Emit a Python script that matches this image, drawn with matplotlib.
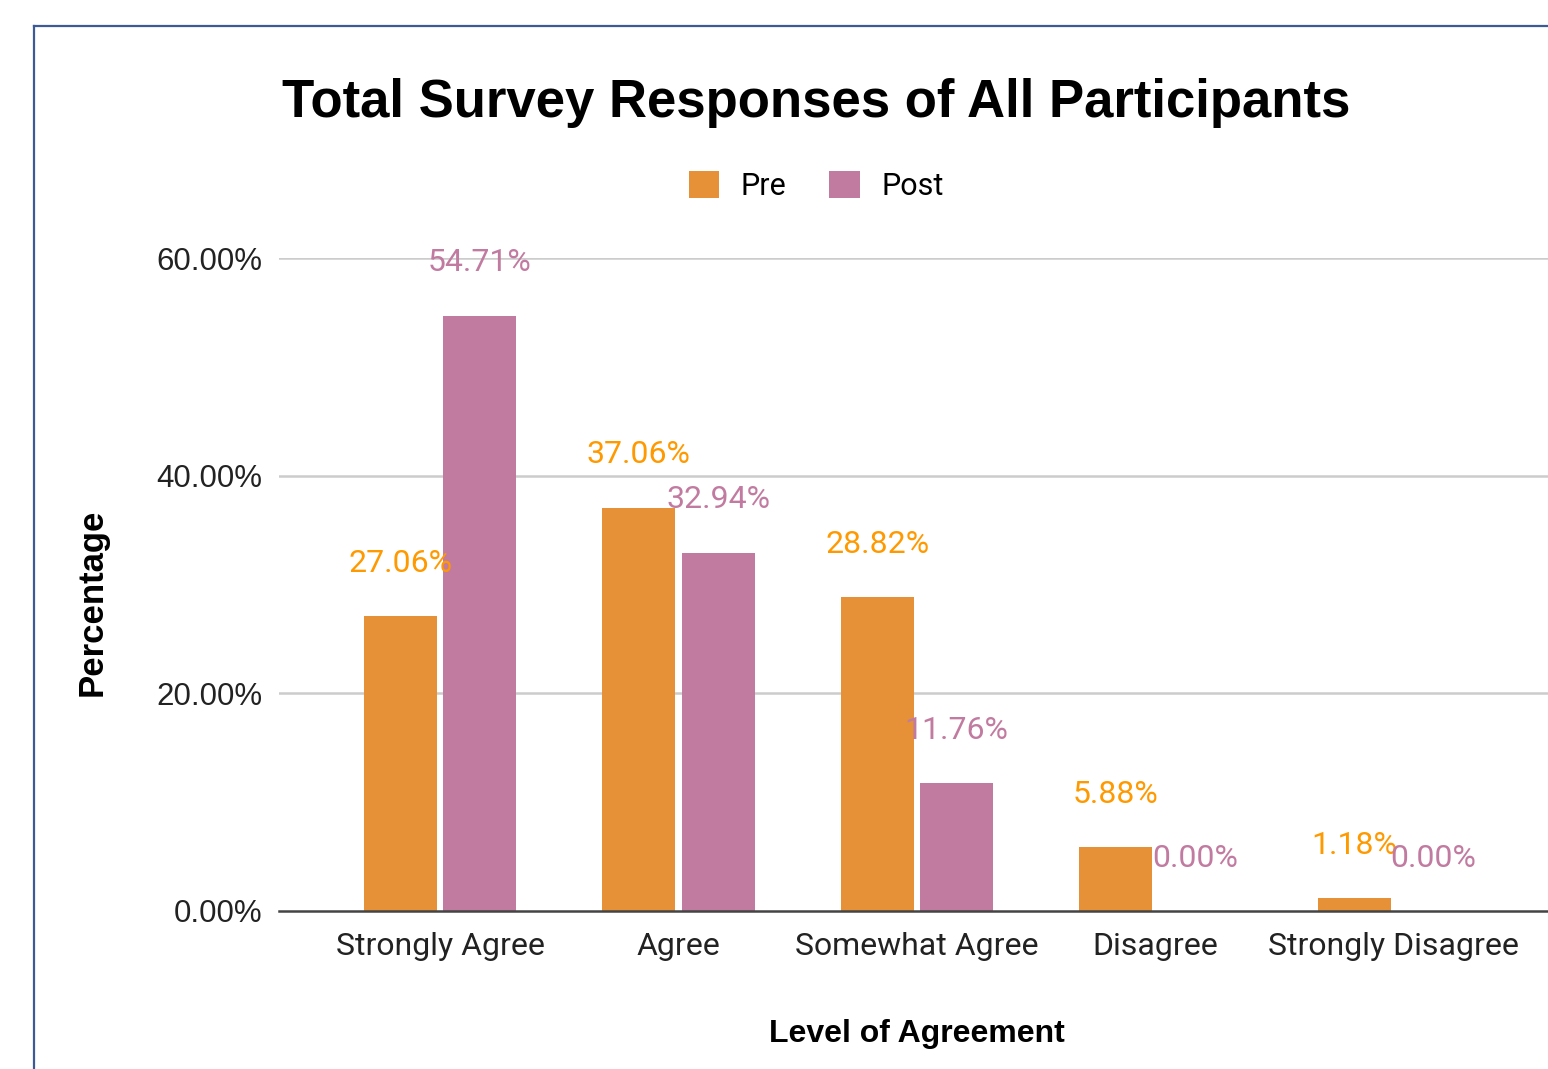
"""
Total Survey Responses of All Participants - pre/post grouped bar chart
"""
import numpy as np
import matplotlib
matplotlib.use("Agg")
import matplotlib.pyplot as plt
from matplotlib.patches import Patch
from matplotlib.lines import Line2D

categories = ["Strongly Agree", "Agree", "Somewhat Agree", "Disagree", "Strongly Disagree"]
pre_vals   = [27.06, 37.06, 28.82, 5.88, 1.18]
post_vals  = [54.71, 32.94, 11.76, 0.00, 0.00]
y_ticks    = [0, 20, 40, 60]
series     = ["Pre", "Post"]

PRE_C, POST_C = "#E69138", "#C27BA0"
PRE_LBL, POST_LBL = "#FF9900", "#C27BA0"

W, H = 1548, 1069
fig = plt.figure(figsize=(W / 100, H / 100), dpi=100, facecolor="white")

# frame border (cropped on the right and bottom)
fig.add_artist(Line2D([34 / W, 34 / W], [0, 1 - 26 / H], color="#3D5A98", lw=1.6))
fig.add_artist(Line2D([34 / W, 1], [1 - 26 / H, 1 - 26 / H], color="#3D5A98", lw=1.6))

ax = fig.add_axes([279 / W, 158 / H, (W - 279) / W, 653 / H])
x = np.arange(len(categories))
bw, off = 0.306, 0.166

b1 = ax.bar(x - off, pre_vals, bw, color=PRE_C, zorder=3)
b2 = ax.bar(x + off, post_vals, bw, color=POST_C, zorder=3)

for bars, vals, c in [(b1, pre_vals, PRE_LBL), (b2, post_vals, POST_LBL)]:
    for b, v in zip(bars, vals):
        ax.annotate(f"{v:.2f}%", (b.get_x() + b.get_width() / 2, v),
                    xytext=(0, 38), textcoords="offset points",
                    ha="center", va="center", fontsize=23, color=c,
                    family="Roboto", zorder=5)

ax.set_xlim(-0.675, 4.646)
ax.set_ylim(0, 60)
ax.set_yticks(y_ticks)
ax.set_yticklabels([f"{t:.2f}%" for t in y_ticks], fontsize=22.5, family="Liberation Sans")
ax.set_xticks(x)
ax.set_xticklabels(categories, fontsize=23, family="Roboto")
ax.tick_params(axis="both", length=0, colors="#222222")
ax.tick_params(axis="y", pad=12)
ax.tick_params(axis="x", pad=15)

for t in y_ticks[1:]:
    ax.axhline(t, color="#CCCCCC", lw=1.8, zorder=1)
ax.axhline(0, color="#444444", lw=1.8, zorder=4, clip_on=False)
for s in ax.spines.values():
    s.set_visible(False)

fig.text(816 / W, 1 - 103 / H, "Total Survey Responses of All Participants",
         ha="center", va="center", fontsize=38, fontweight="bold", family="Liberation Sans")
fig.text(917 / W, 1 - 1034 / H, "Level of Agreement", ha="center", va="center",
         fontsize=23, fontweight="bold", family="Liberation Sans")
fig.text(92 / W, 1 - 602 / H, "Percentage", ha="center", va="center", rotation=90,
         fontsize=25, fontweight="bold", family="Liberation Sans")

handles = [Patch(facecolor=PRE_C), Patch(facecolor=POST_C)]
fig.legend(handles, series, loc="center", bbox_to_anchor=(816 / W, 1 - 186 / H),
           ncol=2, frameon=False, prop={"family": "Roboto", "size": 22},
           handlelength=1.0, handleheight=1.0, handletextpad=0.7, columnspacing=1.4)

fig.savefig("out.png", dpi=100, facecolor="white")
